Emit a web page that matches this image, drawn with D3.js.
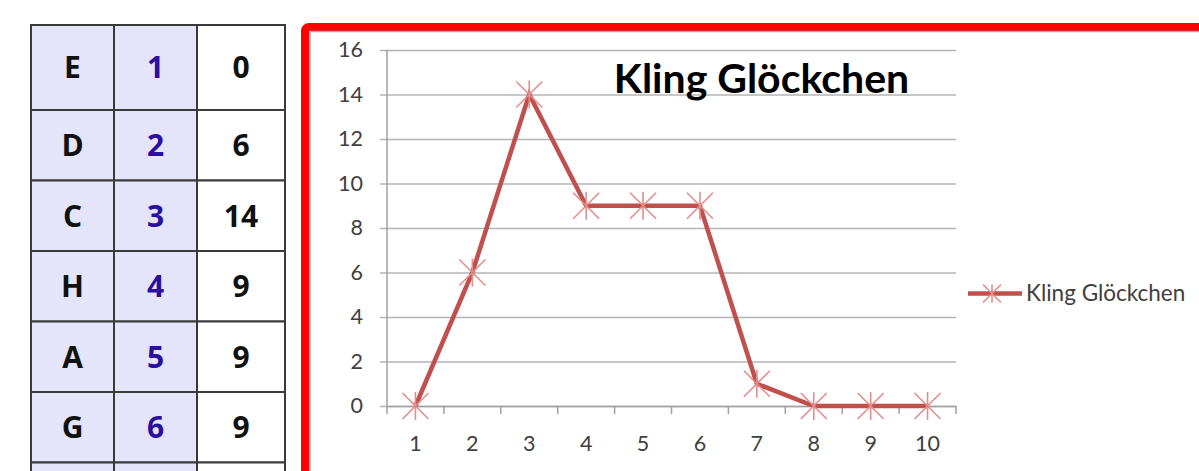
<!DOCTYPE html>
<html>
<head>
<meta charset="utf-8">
<script src="https://cdn.jsdelivr.net/npm/d3@7"></script>
<style>
  html, body { margin: 0; padding: 0; background: #fff; overflow: hidden; }
  svg { display: block; }
</style>
</head>
<body>
<svg id="chart" width="1199" height="471"></svg>
<script>
// Melody table: note names, step numbers and their values
const noteNames = ["E", "D", "C", "H", "A", "G"];
const steps = [1, 2, 3, 4, 5, 6];
const stepValues = [0, 6, 14, 9, 9, 9];

// Line chart series
const categories = ["1", "2", "3", "4", "5", "6", "7", "8", "9", "10"];
const seriesName = "Kling Glöckchen";
const seriesValues = [0, 6, 14, 9, 9, 9, 1, 0, 0, 0];
const yTicks = [0, 2, 4, 6, 8, 10, 12, 14, 16];

const svg = d3.select("#chart");

// ---------- Table ----------
const table = svg.append("g");
const colEdges = [31, 114, 197, 285];
const firstRowTop = 25, firstRowH = 85, rowH = 70.5;
const rowTop = i => i === 0 ? firstRowTop : firstRowTop + firstRowH + (i - 1) * rowH;
const rowHeight = i => i === 0 ? firstRowH : rowH;

const rows = steps.map((s, i) => ({ note: noteNames[i], step: s, value: stepValues[i], i }));
// one further row continues below the visible area
const cellRows = d3.range(rows.length + 1);

table.selectAll("g.cells").data(cellRows).join("g").attr("class", "cells")
  .each(function (i) {
    const g = d3.select(this);
    [0, 1, 2].forEach(c => {
      g.append("rect")
        .attr("x", colEdges[c]).attr("y", rowTop(i))
        .attr("width", colEdges[c + 1] - colEdges[c]).attr("height", rowHeight(i))
        .attr("fill", c < 2 ? "#e4e4fa" : "#ffffff")
        .attr("stroke", "#3a3a3a").attr("stroke-width", 2);
    });
  });

const colors = ["#111111", "#2b0fa0", "#111111"];
table.selectAll("g.row").data(rows).join("g").attr("class", "row")
  .each(function (d) {
    const g = d3.select(this);
    const cy = rowTop(d.i) + rowHeight(d.i) / 2;
    [d.note, d.step, d.value].forEach((t, c) => {
      g.append("text")
        .attr("x", (colEdges[c] + colEdges[c + 1]) / 2)
        .attr("y", cy)
        .attr("dy", "0.36em")
        .attr("text-anchor", "middle")
        .attr("font-family", "'Open Sans', sans-serif")
        .attr("font-weight", 700)
        .attr("font-size", 30)
        .attr("fill", colors[c])
        .text(t);
    });
  });

// ---------- Chart frame ----------
svg.append("rect")
  .attr("x", 305).attr("y", 27)
  .attr("width", 1000).attr("height", 600)
  .attr("rx", 4)
  .attr("fill", "#ffffff")
  .attr("stroke", "#ff0000").attr("stroke-width", 8);
svg.append("rect")
  .attr("x", 310).attr("y", 31.5)
  .attr("width", 1000).attr("height", 600)
  .attr("fill", "none")
  .attr("stroke", "#a8a8a8").attr("stroke-width", 1.5);

// ---------- Plot ----------
const plot = { left: 387, right: 956, top: 50, bottom: 406 };
const x = d3.scaleBand().domain(categories).range([plot.left, plot.right]).padding(0);
const y = d3.scaleLinear().domain([0, 16]).range([plot.bottom, plot.top]);

const axisFont = "Lato, 'Open Sans', sans-serif";
const gridColor = "#b4b4b4";

// gridlines with left tick marks
const yAxis = d3.axisLeft(y).tickValues(yTicks).tickSize(plot.right - plot.left + 7).tickSizeOuter(0);
const yG = svg.append("g").attr("transform", `translate(${plot.right},0)`).call(yAxis);
yG.select(".domain").remove();
yG.selectAll(".tick line").attr("stroke", gridColor).attr("stroke-width", 1.5);
yG.selectAll(".tick text")
  .attr("x", -(plot.right - plot.left) - 24)
  .attr("font-family", axisFont).attr("font-size", 21.5).attr("fill", "#404040");

// vertical axis line
svg.append("line")
  .attr("x1", plot.left).attr("x2", plot.left)
  .attr("y1", plot.top).attr("y2", plot.bottom + 1)
  .attr("stroke", "#a0a0a0").attr("stroke-width", 1.5);

// category axis with tick marks on band edges
const xAxis = d3.axisBottom(x).tickSize(0).tickPadding(30);
const xG = svg.append("g").attr("transform", `translate(0,${plot.bottom})`).call(xAxis);
xG.select(".domain").attr("stroke", "#a0a0a0").attr("stroke-width", 1.5);
xG.selectAll(".tick text")
  .attr("font-family", axisFont).attr("font-size", 21.5).attr("fill", "#404040");
const edges = categories.map(c => x(c)).concat([plot.right]);
svg.append("g").selectAll("line").data(edges).join("line")
  .attr("x1", d => d).attr("x2", d => d)
  .attr("y1", plot.bottom).attr("y2", plot.bottom + 8)
  .attr("stroke", "#a0a0a0").attr("stroke-width", 1.5);

// title
svg.append("text")
  .attr("x", 761.5).attr("y", 93)
  .attr("text-anchor", "middle")
  .attr("font-family", axisFont).attr("font-weight", 700).attr("font-size", 41)
  .attr("fill", "#000")
  .text(seriesName);

// series line
const lineColor = "#c0504d";
const pts = seriesValues.map((v, i) => ({ cx: x(categories[i]) + x.bandwidth() / 2, cy: y(v) }));
svg.append("path")
  .datum(pts)
  .attr("d", d3.line().x(d => d.cx).y(d => d.cy))
  .attr("fill", "none")
  .attr("stroke", lineColor).attr("stroke-width", 4.5)
  .attr("stroke-linejoin", "miter");

// asterisk markers
function star(g, r, rv) {
  g.append("path")
    .attr("d", `M${-r},${-r}L${r},${r}M${-r},${r}L${r},${-r}M0,${-rv}L0,${rv}`)
    .attr("fill", "none")
    .attr("stroke", "#e58d8b").attr("stroke-width", 1.6);
}
svg.append("g").selectAll("g").data(pts).join("g")
  .attr("transform", d => `translate(${d.cx},${d.cy})`)
  .each(function () { star(d3.select(this), 13, 14); });

// legend
const leg = svg.append("g").attr("transform", "translate(968,293.5)");
leg.append("line").attr("x1", 0).attr("x2", 54).attr("y1", 0).attr("y2", 0)
  .attr("stroke", lineColor).attr("stroke-width", 4.5);
const legStar = leg.append("g").attr("transform", "translate(24,0)");
star(legStar, 9, 9);
leg.append("text")
  .attr("x", 58).attr("y", 0).attr("dy", "0.35em")
  .attr("font-family", axisFont).attr("font-size", 22.5).attr("fill", "#404040")
  .text(seriesName);
</script>
</body>
</html>
